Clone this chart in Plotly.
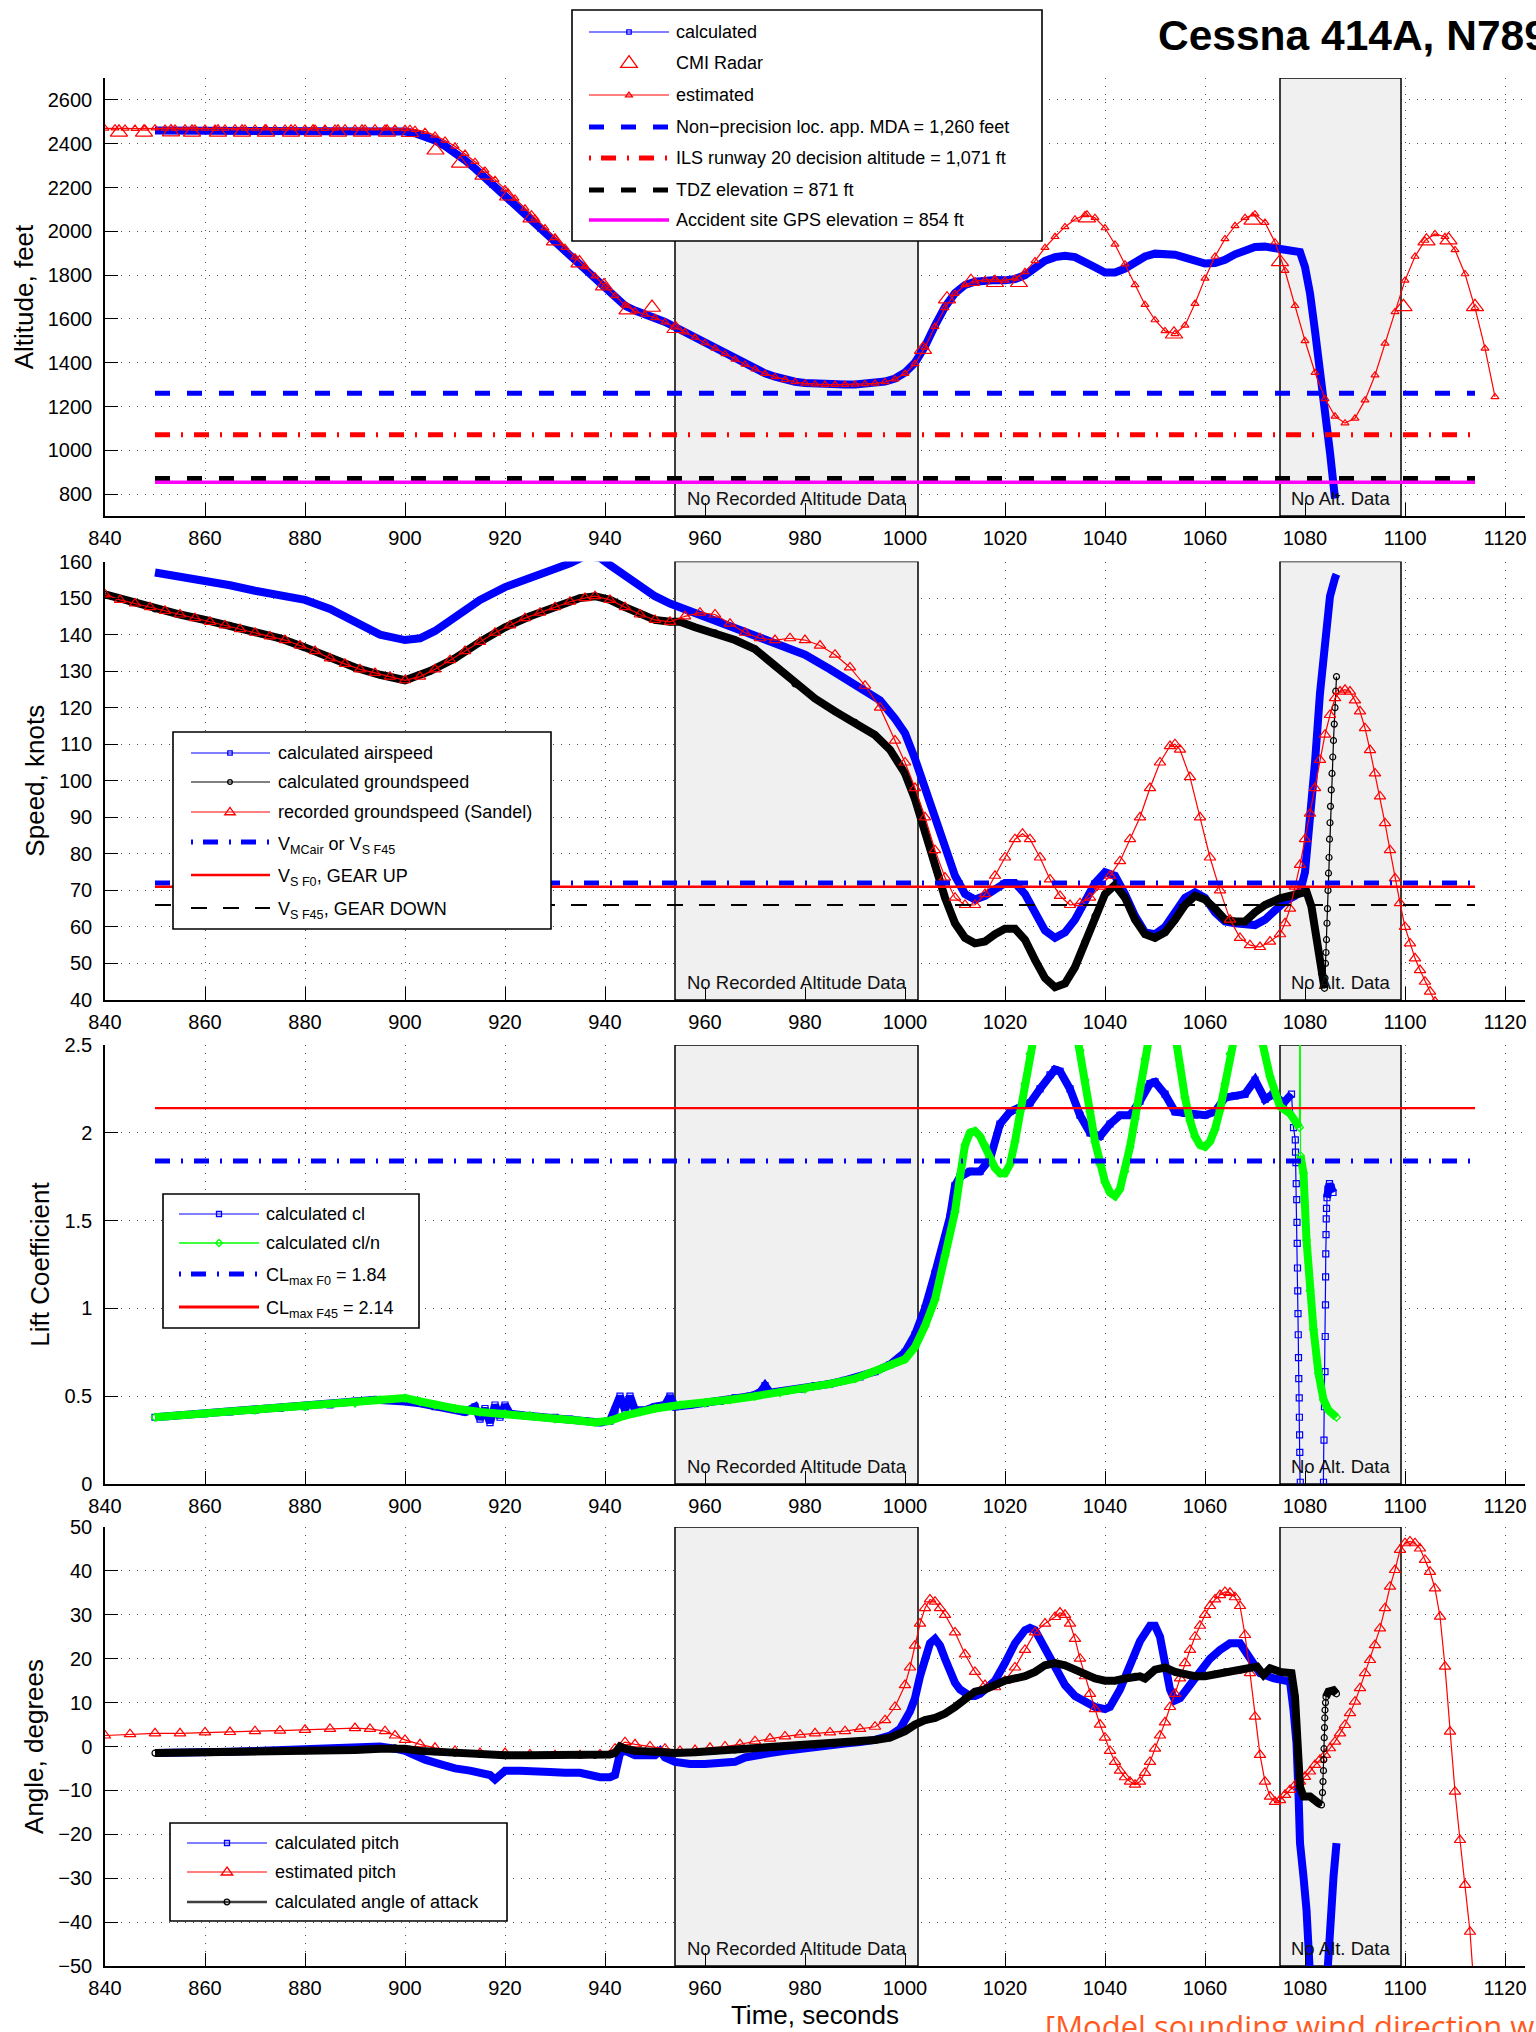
import plotly.graph_objects as go

W, H = 1536, 2032
FONT = "Liberation Sans, Arial, Helvetica, sans-serif"
BLUE, RED, BLACK, GREEN, MAGENTA = "#0000ff", "#ff0000", "#000000", "#00ff00", "#ff00ff"

# ------------------------------------------------------------------ data
time_ticks = list(range(840, 1121, 20))
no_alt_windows = [(954.0, 1002.6, "No Recorded Altitude Data"), (1075.0, 1099.2, "No Alt. Data")]
ref_line_t = [850, 1114]

# Panel 1 - altitude (ft)
ALT_CALC = [(850,2460),(854,2460),(858,2461),(862,2461),(866,2460),(870,2460),(874,2461),(878,2461),(882,2460),(886,2460),(890,2460),(894,2460),(898,2458),(900,2456),(902,2448),(904,2435),(906,2415),(908,2390),(910,2360),(912,2325),(914,2287),(916,2245),(918,2202),(920,2160),(922,2117),(924,2073),(926,2030),(928,1987),(930,1945),(932,1902),(934,1860),(936,1818),(938,1776),(940,1735),(942,1695),(944,1660),(946,1638),(948,1622),(950,1605),(952,1586),(954,1563),(956,1540),(958,1515),(960,1490),(962,1465),(964,1440),(966,1416),(968,1393),(970,1372),(972,1352),(974,1336),(976,1323),(978,1313),(980,1307),(982,1303),(984,1301),(986,1300),(988,1300),(990,1301),(992,1303),(994,1307),(996,1314),(998,1328),(1000,1355),(1002,1400),(1004,1475),(1006,1570),(1008,1655),(1010,1718),(1012,1755),(1014,1770),(1016,1776),(1018,1778),(1020,1776),(1022,1782),(1024,1800),(1026,1835),(1028,1865),(1030,1882),(1032,1888),(1034,1882),(1036,1862),(1038,1836),(1040,1812),(1042,1812),(1044,1830),(1046,1860),(1048,1885),(1050,1898),(1052,1900),(1054,1893),(1056,1880),(1058,1862),(1060,1853),(1062,1855),(1064,1870),(1066,1895),(1068,1915),(1070,1928),(1072,1930),(1074,1925),(1076,1918),(1078,1910),(1079,1905),(1080,1837),(1081,1717),(1082,1545),(1083,1375),(1084,1200),(1085,990),(1086,780)]
ALT_EST = [(840,2470),(842,2471),(844,2470),(846,2469),(848,2470),(850,2471),(852,2470),(854,2470),(856,2471),(858,2470),(860,2470),(862,2469),(864,2470),(866,2471),(868,2470),(870,2470),(872,2471),(874,2470),(876,2470),(878,2471),(880,2470),(882,2470),(884,2469),(886,2470),(888,2471),(890,2470),(892,2470),(894,2471),(896,2470),(898,2469),(900,2468),(902,2464),(904,2455),(906,2438),(908,2415),(910,2388),(912,2355),(914,2318),(916,2278),(918,2236),(920,2193),(922,2150),(924,2105),(926,2060),(928,2015),(930,1970),(932,1925),(934,1882),(936,1838),(938,1795),(940,1750),(942,1705),(944,1662),(946,1635),(948,1620),(950,1605),(952,1585),(954,1562),(956,1540),(958,1515),(960,1490),(962,1465),(964,1440),(966,1415),(968,1392),(970,1370),(972,1350),(974,1335),(976,1322),(978,1312),(980,1306),(982,1302),(984,1300),(986,1300),(988,1300),(990,1301),(992,1303),(994,1306),(996,1312),(998,1325),(1000,1350),(1002,1395),(1004,1470),(1006,1565),(1008,1650),(1010,1715),(1012,1755),(1014,1772),(1016,1778),(1018,1778),(1020,1776),(1022,1785),(1024,1815),(1026,1865),(1028,1925),(1030,1975),(1032,2020),(1034,2055),(1036,2075),(1038,2062),(1040,2015),(1042,1940),(1044,1850),(1046,1755),(1048,1665),(1050,1595),(1052,1545),(1054,1532),(1056,1570),(1058,1670),(1060,1785),(1062,1885),(1064,1965),(1066,2025),(1068,2062),(1070,2078),(1072,2040),(1074,1950),(1076,1820),(1078,1660),(1080,1500),(1082,1355),(1084,1235),(1086,1155),(1088,1124),(1090,1146),(1092,1229),(1094,1343),(1096,1488),(1098,1632),(1100,1776),(1102,1885),(1104,1958),(1106,1988),(1108,1975),(1110,1915),(1112,1805),(1114,1650),(1116,1465),(1118,1244)]
RADAR = [(842.8,2452),(847.8,2452),(853.2,2453),(857.4,2452),(862.6,2452),(867.4,2452),(872.2,2452),(877.2,2452),(881.6,2452),(886.6,2452),(891.4,2452),(896.4,2452),(901.0,2450),(906.1,2370),(911.0,2310),(915.7,2255),(920.6,2160),(925.3,2060),(930.0,1955),(934.9,1855),(939.8,1750),(944.5,1640),(949.4,1652),(954.1,1555),(1003.6,1460),(1008.4,1690),(1013.2,1770),(1018.0,1765),(1022.8,1765),(1036.4,2060),(1053.8,1530),(1069.5,2050),(1075.0,1860),(1099.7,1655),(1104.3,1955),(1108.7,1960),(1114.0,1655)]
mda_ft, ils_da_ft, tdz_ft, site_ft = 1260, 1071, 871, 854

# Panel 2 - speed (kt)
SPD_AIR = [(850,157),(855,156),(860,155),(865,153.5),(870,152),(875,150.5),(880,149.5),(885,147),(890,143.5),(895,140),(900,138.5),(903,139),(906,141),(910,145),(915,149.5),(920,153),(925,155.5),(930,157.5),(933,159.5),(936,161.5),(939,161),(941,159),(944,156),(947,153),(950,150.5),(953,148.5),(956,147),(960,145),(965,142.5),(970,140),(975,137.5),(980,134.5),(985,130.5),(990,126.5),(995,122),(998,117),(1000,113),(1002,106),(1004,98),(1006,90),(1008,81),(1010,74),(1012,69),(1014,67.5),(1016,68.5),(1018,70.5),(1020,72),(1022,72),(1024,69),(1026,64),(1028,59),(1030,57),(1032,58.5),(1034,62),(1036,67),(1038,72),(1040,75),(1042,74),(1044,69),(1046,63),(1048,58.5),(1050,58),(1052,60),(1054,64),(1056,68),(1058,69.5),(1060,68),(1062,64),(1064,61.5),(1066,61),(1068,60.5),(1070,60.5),(1072,62),(1074,64.5),(1076,67),(1078,68.5),(1079,69.5),(1080,75),(1081,88),(1082,105),(1083,124),(1084,139),(1085,150.5),(1086,155.5),(1086.3,156.5)]
SPD_GND = [(840,151),(845,149),(850,147),(855,145.5),(860,144),(865,142.5),(870,140.5),(875,139),(880,136.5),(885,133.5),(890,131),(895,129),(900,127.5),(905,130),(910,133.5),(915,138),(920,142),(925,145),(930,147.5),(935,150),(938,150.5),(941,149.5),(944,147.5),(947,145.5),(950,144),(953,143.5),(955,143.5),(958,142),(962,140.5),(966,138.5),(970,136),(974,131.5),(978,126.5),(982,122.5),(986,119),(990,116),(994,112.5),(997,108.5),(1000,102),(1002,95),(1004,86),(1006,77),(1008,68),(1010,61),(1012,57),(1014,55.5),(1016,56),(1018,58),(1020,59.5),(1022,59.5),(1024,56.5),(1026,51),(1028,46),(1030,43.5),(1032,44.5),(1034,49),(1036,56),(1038,63),(1040,69),(1042,71.5),(1044,68),(1046,62),(1048,58),(1050,57),(1052,58.5),(1054,62),(1056,66),(1058,68.5),(1060,67.5),(1062,65),(1064,62),(1066,61.5),(1068,61.5),(1070,64),(1072,66),(1075,67.8),(1079,69.2),(1080.3,69.6),(1081.3,65.5),(1082.3,56.5),(1083.3,47.3),(1083.9,43.2),(1084.0,46),(1084.1,50),(1084.2,53),(1084.3,56.5),(1084.4,61),(1084.5,65),(1084.6,70),(1084.7,74.7),(1084.8,79),(1084.9,84),(1085.0,88.5),(1085.1,93),(1085.25,97.5),(1085.4,102),(1085.55,106.5),(1085.7,111),(1085.85,115.5),(1086.0,120),(1086.15,124.5),(1086.3,128.5)]
SPD_REC = [(840,151),(843,149.5),(846,148.5),(849,147.5),(852,146.5),(855,145.5),(858,144.5),(861,143.5),(864,142.5),(867,141.5),(870,140.5),(873,139.5),(876,138.5),(879,137),(882,135.5),(885,133.5),(888,132),(891,130.5),(894,129.5),(897,128.5),(900,127.5),(903,128.5),(906,130.5),(909,133),(912,135.5),(915,138),(918,140.5),(921,142.5),(924,144.5),(927,146),(930,147.5),(933,149),(936,150),(938,150.5),(941,149.5),(944,147.5),(947,145.5),(950,144),(953,143.5),(956,145),(959,146),(962,145.5),(965,143),(968,140.5),(971,139),(974,138.5),(977,139),(980,138.5),(983,137),(986,134.5),(989,131),(992,126),(995,120),(998,111),(1000,105),(1002,98),(1004,90),(1006,81),(1008,73.5),(1010,68),(1012,66),(1014,66),(1016,69),(1018,74),(1020,79),(1022,84),(1023.5,85.5),(1025,84),(1027,79),(1029,73),(1031,68.5),(1033,66),(1035,66.5),(1037,68),(1039,71),(1041,74),(1043,78),(1045,84),(1047,90),(1049,98),(1051,105),(1053,109.5),(1054,110),(1055,108.5),(1057,101),(1059,90),(1061,79),(1063,70),(1065,62),(1067,57),(1069,55),(1071,54.5),(1073,56),(1075,58),(1076,61),(1077,65),(1078,71),(1079,77),(1080,84),(1081,91),(1082,98),(1083,105.7),(1084,112.6),(1085,118),(1086,122.6),(1087,124.4),(1088,124.9),(1089,124.4),(1090,122),(1091,119),(1092,114.4),(1093,108.4),(1094,102),(1095,95.7),(1096,88.4),(1097,81),(1098,73.3),(1099,66.5),(1100,60),(1101,55.5),(1102,51.4),(1103,48.2),(1104,45),(1105,42.3),(1106,39.5)]
v_mc_kt, v_sf0_kt, v_sf45_kt = 72, 71, 66

# Panel 3 - lift coefficient
CL_CALC = [(850,0.38),(855,0.39),(860,0.40),(865,0.41),(870,0.42),(875,0.43),(880,0.44),(885,0.45),(890,0.47),(894,0.48),(897,0.48),(900,0.47),(903,0.46),(906,0.44),(909,0.43),(912,0.41),(914,0.44),(915,0.37),(916,0.43),(917,0.35),(918,0.45),(919,0.38),(920,0.45),(921,0.40),(924,0.39),(927,0.38),(930,0.38),(933,0.37),(936,0.36),(939,0.35),(941,0.36),(942,0.42),(943,0.50),(944,0.42),(945,0.50),(946,0.42),(948,0.42),(950,0.44),(952,0.45),(953,0.50),(954,0.44),(957,0.45),(960,0.46),(963,0.47),(966,0.49),(969,0.50),(971,0.52),(972,0.56),(973,0.52),(976,0.53),(979,0.54),(982,0.56),(985,0.57),(988,0.59),(991,0.61),(994,0.64),(997,0.68),(1000,0.75),(1002,0.85),(1004,1.00),(1006,1.20),(1008,1.40),(1009,1.52),(1010,1.70),(1011,1.75),(1013,1.78),(1015,1.78),(1017,1.85),(1019,2.05),(1021,2.12),(1023,2.14),(1025,2.17),(1027,2.25),(1029,2.33),(1030,2.36),(1031,2.35),(1033,2.25),(1035,2.10),(1037,2.00),(1039,1.98),(1041,2.05),(1043,2.10),(1045,2.10),(1047,2.18),(1049,2.28),(1050,2.29),(1052,2.22),(1054,2.12),(1056,2.11),(1058,2.10),(1060,2.10),(1062,2.12),(1064,2.20),(1066,2.21),(1068,2.22),(1070,2.30),(1072,2.19),(1073.6,2.22),(1075.7,2.17),(1077.3,2.22),(1077.7,2.03),(1078.06,1.96),(1078.1,1.89),(1078.2,1.83),(1078.25,1.71),(1078.35,1.62),(1078.4,1.49),(1078.45,1.37),(1078.5,1.23),(1078.55,1.10),(1078.6,0.97),(1078.65,0.85),(1078.7,0.72),(1078.75,0.60),(1078.85,0.49),(1078.88,0.38),(1078.92,0.28),(1078.96,0.18),(1079.06,0.01),(1079.1,-0.2),(None,None),(1083.6,-0.2),(1083.7,0.01),(1083.8,0.25),(1083.9,0.44),(1084.0,0.64),(1084.05,0.84),(1084.1,1.02),(1084.12,1.18),(1084.15,1.31),(1084.2,1.42),(1084.25,1.51),(1084.3,1.57),(1084.4,1.63),(1084.6,1.68),(1084.9,1.71),(1085.2,1.69),(1085.6,1.66)]
CL_N = [(850,0.38),(860,0.40),(870,0.42),(880,0.44),(890,0.46),(895,0.48),(900,0.49),(903,0.47),(906,0.45),(910,0.43),(915,0.41),(920,0.40),(925,0.39),(930,0.37),(935,0.36),(938,0.35),(941,0.36),(944,0.39),(947,0.41),(950,0.43),(955,0.45),(960,0.46),(965,0.48),(970,0.50),(975,0.52),(980,0.54),(985,0.57),(990,0.60),(995,0.65),(1000,0.71),(1002,0.78),(1004,0.90),(1006,1.05),(1008,1.30),(1010,1.55),(1011,1.75),(1012,1.93),(1013,2.00),(1014,2.01),(1015,1.98),(1016,1.93),(1017,1.86),(1018,1.80),(1019,1.77),(1020,1.77),(1021,1.82),(1022,1.95),(1023,2.12),(1024,2.28),(1025,2.45),(1026,2.62),(1028,2.90),(1030,3.00),(1032,2.90),(1034,2.62),(1035,2.47),(1036,2.30),(1037,2.12),(1038,1.95),(1039,1.82),(1040,1.72),(1041,1.66),(1042,1.64),(1043,1.68),(1044,1.78),(1045,1.92),(1046,2.08),(1047,2.25),(1048,2.42),(1049,2.58),(1051,2.90),(1053,2.75),(1054,2.55),(1055,2.38),(1056,2.20),(1057,2.07),(1058,1.98),(1059,1.93),(1060,1.92),(1061,1.95),(1062,2.02),(1063,2.13),(1064,2.28),(1065,2.45),(1066,2.62),(1068,2.85),(1070,2.70),(1071.4,2.51),(1073,2.32),(1075,2.15),(1077,2.11),(1078.9,2.03),(1079.0,3.50),(1079.1,1.87),(1079.7,1.77),(1080.3,1.39),(1081.0,1.10),(1081.7,0.88),(1082.7,0.63),(1083.7,0.48),(1084.7,0.42),(1086.3,0.38)]
cl_max_f0, cl_max_f45 = 1.84, 2.14

# Panel 4 - angles (deg)
PITCH_CALC = [(850,-1.5),(855,-1.5),(860,-1.3),(865,-1.2),(870,-1.0),(875,-0.8),(880,-0.6),(885,-0.5),(890,-0.3),(895,0.0),(898,-0.5),(900,-1.0),(902,-2.0),(904,-3.0),(907,-4.0),(910,-5.0),(913,-5.5),(916,-6.0),(917,-6.5),(918,-7.5),(919,-6.5),(920,-5.5),(923,-5.5),(926,-5.5),(929,-5.8),(932,-6.0),(935,-6.0),(937,-6.5),(939,-7.0),(941,-7.0),(942,-6.5),(943,-1.5),(944,-1.0),(946,-2.0),(948,-2.0),(950,-2.0),(951,-1.0),(952,-2.5),(954,-3.5),(957,-4.0),(960,-4.0),(963,-3.8),(966,-3.5),(968,-2.5),(970,-2.0),(973,-1.5),(976,-1.0),(979,-0.5),(982,0.0),(985,0.3),(988,0.7),(991,1.0),(994,1.5),(997,2.5),(999,4.0),(1001,8.0),(1002,11.0),(1003,16.0),(1004,20.0),(1005,23.5),(1006,24.5),(1007,23.0),(1008,20.0),(1009,17.0),(1010,14.5),(1011,13.0),(1012,12.0),(1013,11.5),(1014,11.5),(1015,12.0),(1016,13.0),(1018,15.0),(1020,19.0),(1022,23.5),(1024,26.5),(1025,27.0),(1026,26.5),(1028,22.0),(1030,17.5),(1032,14.0),(1034,11.5),(1036,10.0),(1038,9.0),(1040,8.5),(1041,9.0),(1043,13.0),(1045,19.0),(1047,24.0),(1049,27.5),(1050,27.5),(1051,25.0),(1052,18.0),(1053,13.0),(1054,10.5),(1055,11.0),(1057,14.0),(1059,17.0),(1061,20.0),(1063,22.0),(1065,23.5),(1067,23.5),(1069,19.7),(1071,16.7),(1073.8,15.5),(1077,14.8),(1077.7,8.3),(1078.3,0.7),(1078.7,-10.7),(1079,-22.0),(1079.7,-29.7),(1080.3,-37.2),(1080.9,-50.0),(1081.1,-55.0),(None,None),(1084.3,-55.0),(1084.5,-50.0),(1085,-41.0),(1085.7,-29.7),(1086.3,-22.0)]
PITCH_EST = [(840,2.5),(845,2.8),(850,3.0),(855,3.0),(860,3.2),(865,3.3),(870,3.5),(875,3.6),(880,3.8),(885,4.0),(890,4.2),(893,4.0),(896,3.5),(898,2.5),(900,1.5),(903,0.5),(906,-0.3),(910,-1.0),(915,-1.5),(920,-1.5),(925,-1.8),(930,-2.0),(935,-2.0),(939,-1.8),(942,-0.5),(944,1.0),(946,0.5),(949,0.0),(952,-0.5),(955,-1.0),(958,-0.8),(961,-0.3),(964,0.0),(967,0.5),(970,1.2),(973,1.8),(976,2.3),(979,2.7),(982,3.0),(985,3.2),(988,3.5),(991,4.0),(994,4.5),(996,6.0),(998,9.0),(1000,14.0),(1001,18.0),(1002,23.0),(1003,28.0),(1004,31.5),(1005,33.5),(1006,33.0),(1007,31.5),(1008,30.0),(1010,26.0),(1012,21.0),(1014,17.0),(1016,14.0),(1018,13.5),(1020,15.0),(1022,18.0),(1024,22.0),(1026,26.0),(1028,28.0),(1030,29.5),(1031,30.5),(1032,30.0),(1033,28.0),(1034,24.5),(1035,20.0),(1036,16.0),(1037,12.0),(1038,8.5),(1039,5.0),(1040,2.0),(1041,-1.0),(1042,-3.5),(1043,-5.5),(1044,-7.0),(1045,-8.0),(1046,-8.7),(1047,-8.0),(1048,-6.0),(1049,-3.5),(1050,-0.5),(1051,2.5),(1052,5.5),(1053,9.0),(1054,12.0),(1055,15.5),(1056,19.0),(1057,22.0),(1058,25.0),(1059,27.5),(1060,30.0),(1061,32.0),(1062,33.5),(1063,34.5),(1064,35.2),(1065,35.0),(1066,34.0),(1067,32.0),(1068,25.4),(1069,16.7),(1070,6.8),(1071,-1.9),(1072,-8.0),(1073,-11.4),(1074,-12.6),(1075,-12.2),(1076,-11.0),(1077,-9.9),(1078,-8.8),(1079,-8.0),(1080,-6.9),(1081,-5.7),(1082,-4.2),(1083,-3.0),(1084,-1.9),(1085,-0.4),(1086,1.1),(1087,3.0),(1088,4.9),(1089,7.6),(1090,10.2),(1091,13.3),(1092,16.7),(1093,19.7),(1094,23.1),(1095,26.9),(1096,31.5),(1097,36.4),(1098,40.2),(1099,44.8),(1100,46.3),(1101,46.7),(1102,46.3),(1103,45.1),(1104,42.5),(1105,39.8),(1106,36.0),(1107,29.6),(1108,18.2),(1109,3.4),(1110,-10.3),(1111,-21.3),(1112,-31.5),(1113,-42.2),(1113.8,-55.0)]
AOA_CALC = [(850,-1.5),(860,-1.4),(870,-1.2),(880,-1.0),(890,-0.8),(895,-0.5),(898,-0.3),(900,-0.5),(903,-1.0),(906,-1.2),(910,-1.5),(915,-1.8),(920,-2.0),(925,-2.0),(930,-2.0),(935,-2.0),(938,-2.0),(941,-1.8),(942,-1.5),(943,0.0),(944,-0.5),(946,-1.0),(950,-1.2),(954,-1.5),(958,-1.3),(962,-1.0),(966,-0.8),(970,-0.5),(974,-0.2),(978,0.0),(982,0.3),(986,0.6),(990,1.0),(994,1.5),(997,2.0),(1000,3.5),(1002,5.0),(1004,6.0),(1006,6.5),(1008,7.5),(1010,9.0),(1012,11.0),(1014,12.5),(1016,13.0),(1018,14.0),(1020,15.0),(1022,15.5),(1024,16.0),(1026,17.0),(1028,18.5),(1030,19.0),(1032,18.5),(1034,17.5),(1036,16.5),(1038,15.5),(1040,15.0),(1042,15.0),(1044,15.5),(1046,16.0),(1047,16.0),(1048,15.5),(1050,17.5),(1052,18.0),(1054,17.0),(1056,16.5),(1058,16.0),(1060,16.0),(1062,16.5),(1064,17.0),(1067.1,17.4),(1070.4,18.2),(1071.7,16.3),(1073,17.8),(1075,17.0),(1077.3,16.7),(1078,11.3),(1078.5,0.7),(1079,-9.2),(1079.7,-11.4),(1081,-11.4),(1082.7,-12.9),(1083.3,-13.3),(1083.5,-10.5),(1083.6,-8.0),(1083.7,-5.5),(1083.75,-3.0),(1083.8,-0.5),(1083.85,2.0),(1083.9,4.3),(1083.95,6.5),(1084.0,8.3),(1084.1,10.0),(1084.2,11.3),(1084.7,12.5),(1085.7,12.8),(1086.3,12.0)]

# ------------------------------------------------------------------ helpers
def cols(pairs):
    return [p[0] for p in pairs], [p[1] for p in pairs]

def parts(pairs, ranges):
    xs, ys = [], []
    for lo, hi in ranges:
        seg = [p for p in pairs if p[0] is not None and lo <= p[0] <= hi]
        if xs:
            xs.append(None); ys.append(None)
        xs += [p[0] for p in seg]; ys += [p[1] for p in seg]
    return xs, ys

def px(x): return x / W
def py(y): return 1 - y / H

fig = go.Figure()
AX = [("x", "y"), ("x2", "y2"), ("x3", "y3"), ("x4", "y4")]
THICK = 8

panel_px = [(78, 516), (561.5, 1000), (1045, 1484), (1527, 1966)]
y_specs = [
    dict(range=[700, 2700], tickvals=list(range(800, 2601, 200)), title="Altitude, feet"),
    dict(range=[40, 160], tickvals=list(range(40, 161, 10)), title="Speed, knots"),
    dict(range=[0, 2.5], tickvals=[0, 0.5, 1, 1.5, 2, 2.5], title="Lift Coefficient"),
    dict(range=[-50, 50], tickvals=list(range(-50, 51, 10)), title="Angle, degrees"),
]

def gray_boxes(i):
    lo, hi = y_specs[i]["range"]
    for x0, x1, _ in no_alt_windows:
        fig.add_trace(go.Scatter(x=[x0, x1, x1, x0, x0], y=[lo, lo, hi, hi, lo], mode="lines", fill="toself",
                                 fillcolor="#f0f0f0", line=dict(color="black", width=1.5),
                                 xaxis=AX[i][0], yaxis=AX[i][1], hoverinfo="skip", showlegend=False))

def thick(i, xy, color):
    fig.add_trace(go.Scatter(x=xy[0], y=xy[1], mode="lines", line=dict(color=color, width=THICK),
                             xaxis=AX[i][0], yaxis=AX[i][1], hoverinfo="skip", showlegend=False))

def thin(i, xy, color, symbol, size, width=1.2, mode="lines+markers"):
    fig.add_trace(go.Scatter(x=xy[0], y=xy[1], mode=mode, line=dict(color=color, width=width),
                             marker=dict(symbol=symbol, size=size, color=color, line=dict(color=color, width=1.2)),
                             xaxis=AX[i][0], yaxis=AX[i][1], hoverinfo="skip", showlegend=False))

def hline(i, value, color, width, dash):
    fig.add_trace(go.Scatter(x=ref_line_t, y=[value, value], mode="lines", line=dict(color=color, width=width, dash=dash),
                             xaxis=AX[i][0], yaxis=AX[i][1], hoverinfo="skip", showlegend=False))

DASH = "15px,17px"
DASHDOT = "15px,11px,2px,11px"
for i in range(4):
    gray_boxes(i)

# Panel 1
thick(0, cols(ALT_CALC), BLUE)
thin(0, cols(RADAR), RED, "triangle-up-open", 15, mode="markers")
thin(0, cols(ALT_EST), RED, "triangle-up-open", 7)
hline(0, mda_ft, BLUE, 5, DASH)
hline(0, ils_da_ft, RED, 5, DASHDOT)
hline(0, tdz_ft, BLACK, 5, DASH)
hline(0, site_ft, MAGENTA, 3.5, "solid")

# Panel 2
thick(1, cols(SPD_AIR), BLUE)
thick(1, parts(SPD_GND, [(840, 1083.9)]), BLACK)
thin(1, cols(SPD_GND), BLACK, "circle-open", 6)
thin(1, cols(SPD_REC), RED, "triangle-up-open", 10)
hline(1, v_mc_kt, BLUE, 5, DASHDOT)
hline(1, v_sf0_kt, RED, 2.5, "solid")
hline(1, v_sf45_kt, BLACK, 2.2, "16px,16px")

# Panel 3
thick(2, parts(CL_CALC, [(850, 1077.3), (1084.4, 1085.6)]), BLUE)
thin(2, cols(CL_CALC), BLUE, "square-open", 6)
thick(2, parts(CL_N, [(850, 1078.9), (1079.1, 1086.3)]), GREEN)
thin(2, cols(CL_N), GREEN, "diamond-open", 6)
hline(2, cl_max_f45, RED, 2.2, "solid")
hline(2, cl_max_f0, BLUE, 5, DASHDOT)

# Panel 4
thick(3, parts(PITCH_CALC, [(850, 1081.1), (1084.3, 1086.3)]), BLUE)
thin(3, cols(PITCH_EST), RED, "triangle-up-open", 10)
thick(3, parts(AOA_CALC, [(850, 1083.3), (1084.2, 1086.3)]), BLACK)
thin(3, cols(AOA_CALC), BLACK, "circle-open", 6)

# ------------------------------------------------------------------ axes
common = dict(showline=True, linecolor="black", linewidth=1.5, mirror=False, automargin=False,
              ticks="inside", ticklen=13, tickwidth=1.3, tickcolor="black",
              showgrid=True, gridcolor="#555555", gridwidth=1.3, griddash="1px,7px",
              zeroline=False, tickfont=dict(size=20, color="black", family=FONT))
layout_axes = {}
for i, ((top, bot), ys) in enumerate(zip(panel_px, y_specs)):
    sfx = "" if i == 0 else str(i + 1)
    xa = dict(common, domain=[105 / W, 1525 / W], range=[840, 1124], anchor="y" + sfx,
              tickmode="array", tickvals=time_ticks, ticklabelstandoff=3)
    if i == 3:
        xa["title"] = dict(text="Time, seconds", font=dict(size=26, color="black", family=FONT), standoff=8)
    ya = dict(common, domain=[py(bot), py(top)], range=ys["range"], anchor="x" + sfx,
              tickmode="array", tickvals=ys["tickvals"], ticklabelstandoff=7,
              title=dict(text=ys["title"], font=dict(size=26, color="black", family=FONT), standoff=7))
    layout_axes["xaxis" + sfx] = xa
    layout_axes["yaxis" + sfx] = ya

# ------------------------------------------------------------------ shapes / annotations
shapes, annotations = [], []
for i in range(4):
    sfx = "" if i == 0 else str(i + 1)
    for x0, x1, label in no_alt_windows:
        annotations.append(dict(xref="x" + sfx, yref=("y" + sfx + " domain"), x=(x0 + x1) / 2, y=0.012,
                                xanchor="center", yanchor="bottom", text=label, showarrow=False,
                                font=dict(size=18.5, color="#111111", family=FONT)))

def leg_box(x0, y0, x1, y1):
    shapes.append(dict(type="rect", xref="paper", yref="paper", x0=px(x0), x1=px(x1), y0=py(y1), y1=py(y0),
                       fillcolor="white", line=dict(color="black", width=1.6), layer="above"))

def leg_row(lx0, lx1, mx, y, tx, text, line=None, marker=None, dy=0):
    if line:
        shapes.append(dict(type="line", xref="paper", yref="paper", x0=px(lx0), x1=px(lx1), y0=py(y), y1=py(y),
                           line=line, layer="above"))
    if marker:
        kind, color, r = marker
        ln = dict(color=color, width=1.3)
        if kind == "square":
            shapes.append(dict(type="rect", xref="paper", yref="paper", x0=px(mx - r), x1=px(mx + r),
                               y0=py(y + r), y1=py(y - r), line=ln, layer="above"))
        elif kind == "circle":
            shapes.append(dict(type="circle", xref="paper", yref="paper", x0=px(mx - r), x1=px(mx + r),
                               y0=py(y + r), y1=py(y - r), line=ln, layer="above"))
        elif kind == "triangle":
            path = "M {:.5f},{:.5f} L {:.5f},{:.5f} L {:.5f},{:.5f} Z".format(
                px(mx), py(y - r), px(mx + 1.15 * r), py(y + 0.6 * r), px(mx - 1.15 * r), py(y + 0.6 * r))
            shapes.append(dict(type="path", xref="paper", yref="paper", path=path, line=ln, layer="above"))
        elif kind == "diamond":
            path = "M {:.5f},{:.5f} L {:.5f},{:.5f} L {:.5f},{:.5f} L {:.5f},{:.5f} Z".format(
                px(mx), py(y - r), px(mx + r), py(y), px(mx), py(y + r), px(mx - r), py(y))
            shapes.append(dict(type="path", xref="paper", yref="paper", path=path, line=ln, layer="above"))
    annotations.append(dict(xref="paper", yref="paper", x=px(tx), y=py(y + dy), xanchor="left", yanchor="middle",
                            text=text, showarrow=False, font=dict(size=18, color="black", family=FONT)))

# legend 1
leg_box(572, 10, 1042, 241)
L1 = dict(lx0=589, lx1=669, mx=629, tx=674)
leg_row(**L1, y=32, text="calculated", line=dict(color=BLUE, width=1), marker=("square", BLUE, 2.2))
leg_row(**L1, y=63, text="CMI Radar", marker=("triangle", RED, 7.3))
leg_row(**L1, y=95, text="estimated", line=dict(color=RED, width=1), marker=("triangle", RED, 3))
leg_row(**L1, y=127, text="Non\u2212precision loc. app. MDA = 1,260 feet", line=dict(color=BLUE, width=5, dash=DASH))
leg_row(**L1, y=158, text="ILS runway 20 decision altitude = 1,071 ft", line=dict(color=RED, width=5, dash="2px,10px,15px,11px"))
leg_row(**L1, y=190, text="TDZ elevation = 871 ft", line=dict(color=BLACK, width=5, dash=DASH))
leg_row(**L1, y=220, text="Accident site GPS elevation = 854 ft", line=dict(color=MAGENTA, width=3.5))

# legend 2
leg_box(173, 732, 551, 929)
L2 = dict(lx0=191, lx1=270, mx=230, tx=276)
leg_row(**L2, y=753, text="calculated airspeed", line=dict(color=BLUE, width=1), marker=("square", BLUE, 2.2))
leg_row(**L2, y=782, text="calculated groundspeed", line=dict(color=BLACK, width=1), marker=("circle", BLACK, 2.3))
leg_row(**L2, y=812, text="recorded groundspeed (Sandel)", line=dict(color=RED, width=1), marker=("triangle", RED, 4.6))
leg_row(**L2, y=842, text="V<sub>MCair</sub> or V<sub>S F45</sub>", line=dict(color=BLUE, width=5, dash="2px,10px,15px,11px"), dy=4)
leg_row(**L2, y=875, text="V<sub>S F0</sub>, GEAR UP", line=dict(color=RED, width=2.5), dy=2)
leg_row(**L2, y=908, text="V<sub>S F45</sub>, GEAR DOWN", line=dict(color=BLACK, width=2.2, dash="16px,16px"), dy=2)

# legend 3
leg_box(163, 1194, 419, 1328)
L3 = dict(lx0=179, lx1=259, mx=219, tx=264)
leg_row(**L3, y=1214, text="calculated cl", line=dict(color=BLUE, width=1), marker=("square", BLUE, 2.5))
leg_row(**L3, y=1243, text="calculated cl/n", line=dict(color=GREEN, width=1.5), marker=("diamond", GREEN, 3.5))
leg_row(**L3, y=1274, text="CL<sub>max F0</sub> = 1.84", line=dict(color=BLUE, width=5, dash="2px,10px,15px,11px"), dy=2)
leg_row(**L3, y=1307, text="CL<sub>max F45</sub> = 2.14", line=dict(color=RED, width=3), dy=2)

# legend 4
leg_box(170, 1823, 507, 1921)
L4 = dict(lx0=187, lx1=267, mx=227, tx=273)
leg_row(**L4, y=1843, text="calculated pitch", line=dict(color=BLUE, width=1), marker=("square", BLUE, 2.5))
leg_row(**L4, y=1872, text="estimated pitch", line=dict(color=RED, width=1.2), marker=("triangle", RED, 5))
leg_row(**L4, y=1902, text="calculated angle of attack", line=dict(color="#404040", width=2.5), marker=("circle", BLACK, 2.8))

# title (cropped at the right edge like the reference) and the cropped note at the bottom
annotations.append(dict(xref="paper", yref="paper", x=px(1156), y=py(36), xanchor="left", yanchor="middle",
                        text="<b>Cessna 414A, N789UP</b>", showarrow=False,
                        font=dict(size=42.5, color="black", family=FONT)))
annotations.append(dict(xref="paper", yref="paper", x=px(1043), y=py(2003), xanchor="left", yanchor="top",
                        text="[Model sounding wind direction with altitude]", showarrow=False,
                        font=dict(size=31, color="#ff5a1f", family="Open Sans, Lato, sans-serif")))

fig.update_layout(width=W, height=H, margin=dict(l=0, r=0, t=0, b=0, autoexpand=False),
                  paper_bgcolor="white", plot_bgcolor="white", showlegend=False,
                  font=dict(family=FONT, color="black"), hovermode=False,
                  shapes=shapes, annotations=annotations, **layout_axes)

fig.write_html("out.html", config={"displayModeBar": False},
               post_script="document.body.style.margin='0';document.body.style.overflow='hidden';")
